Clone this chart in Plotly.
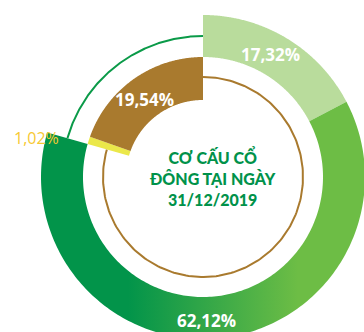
import numpy as np
import plotly.graph_objects as go

# Shareholder structure at 31/12/2019 (percent)
outer_labels = ["17,32%", "62,12%"]
outer_values = [17.32, 62.12]
inner_labels = ["1,02%", "19,54%"]
inner_values = [1.02, 19.54]
title_lines = ["CƠ CẤU CỔ", "ĐÔNG TẠI NGÀY", "31/12/2019"]

LIGHT_GREEN = "#b9dc9c"
GREEN_DARK = "#02944a"
GREEN_LIGHT = "#6dbd45"
LINE_GREEN = "#0a9a48"
BROWN = "#a97a2e"
YELLOW = "#ebe84a"
LABEL_YELLOW = "#f7c933"

R_OUT, R_MID, R_IN = 162, 120, 77
R_GREEN_LINE, R_BROWN_LINE = 141, 100


def angle(pct):
    # clockwise from 12 o'clock
    return 2 * np.pi * pct / 100.0


def arc(r, p0, p1, n=200):
    t = np.linspace(angle(p0), angle(p1), n)
    return r * np.sin(t), r * np.cos(t)


def wedge(r0, r1, p0, p1):
    xo, yo = arc(r1, p0, p1)
    xi, yi = arc(r0, p1, p0)
    return np.concatenate([xo, xi, xo[:1]]), np.concatenate([yo, yi, yo[:1]])


fig = go.Figure()

# outer ring: first segment solid, second with horizontal gradient
start = 0.0
x, y = wedge(R_MID, R_OUT, start, start + outer_values[0])
fig.add_trace(go.Scatter(x=x, y=y, fill="toself", fillcolor=LIGHT_GREEN,
                         mode="none", hoverinfo="skip"))
start += outer_values[0]
x, y = wedge(R_MID, R_OUT, start, start + outer_values[1])
fig.add_trace(go.Scatter(
    x=x, y=y, fill="toself", mode="none", hoverinfo="skip",
    fillgradient=dict(type="horizontal", start=-75, stop=95,
                      colorscale=[[0, GREEN_DARK], [1, GREEN_LIGHT]])))
start += outer_values[1]

# thin green arc for the remainder of the outer ring
x, y = arc(R_GREEN_LINE, start, 100)
fig.add_trace(go.Scatter(x=x, y=y, mode="lines",
                         line=dict(color=LINE_GREEN, width=2), hoverinfo="skip"))

# inner ring: thin brown arc, then the yellow and brown segments
inner_start = 100 - sum(inner_values)
x, y = arc(R_BROWN_LINE, 0, inner_start)
fig.add_trace(go.Scatter(x=x, y=y, mode="lines",
                         line=dict(color=BROWN, width=2), hoverinfo="skip"))
p = inner_start
for v, c in zip(inner_values, [YELLOW, BROWN]):
    x, y = wedge(R_IN, R_MID, p, p + v)
    fig.add_trace(go.Scatter(x=x, y=y, fill="toself", fillcolor=c,
                             mode="none", hoverinfo="skip"))
    p += v

label_font = dict(family="Open Sans", size=17, color="white", weight=700)
fig.add_annotation(x=67, y=123, text=outer_labels[0],
                   showarrow=False, font=label_font)
fig.add_annotation(x=3, y=-143, text=outer_labels[1],
                   showarrow=False, font=label_font)
fig.add_annotation(x=-59, y=78, text=inner_labels[1],
                   showarrow=False, font=label_font)
fig.add_annotation(x=-167, y=39, text=inner_labels[0], showarrow=False,
                   font=dict(family="Open Sans", size=16, color=LABEL_YELLOW))

fig.add_annotation(x=9, y=0, text="<br>".join(title_lines),
                   showarrow=False, align="center",
                   font=dict(family="Lato", size=16, color="#00924a", weight=900))

fig.update_layout(
    width=364, height=332, margin=dict(l=0, r=0, t=0, b=0),
    paper_bgcolor="white", plot_bgcolor="white", showlegend=False,
    xaxis=dict(range=[-203, 161], visible=False, fixedrange=True),
    yaxis=dict(range=[-155, 177], visible=False, fixedrange=True),
)

fig.write_html("out.html")
